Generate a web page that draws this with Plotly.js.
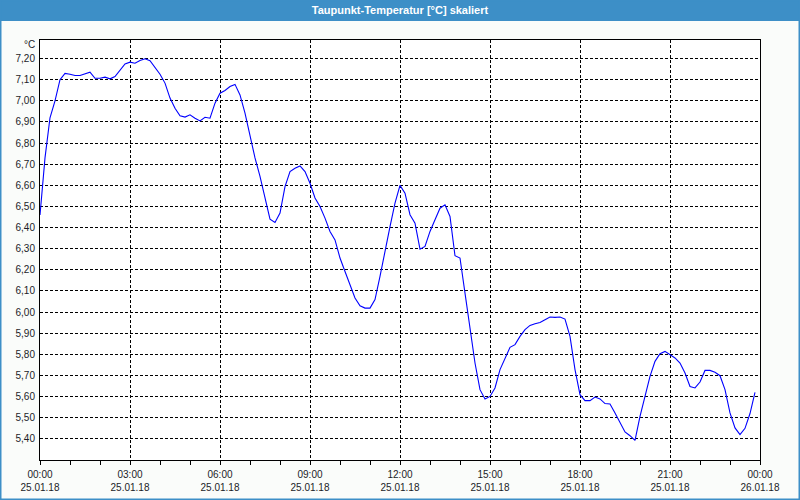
<!DOCTYPE html>
<html>
<head>
<meta charset="utf-8">
<script src="https://cdn.plot.ly/plotly-3.0.1.min.js"></script>
<style>html,body{margin:0;padding:0;background:#fafcfa;}#chart{width:800px;height:500px;}</style>
</head>
<body>
<div id="chart"></div>
<script>
// Chart title and unit
const chartTitle = "Taupunkt-Temperatur [°C] skaliert";
const unitLabel = "°C";

// Sampling of the series: one reading every 10 minutes from the start time
const startTime = "2018-01-25T00:00:00";
const stepMinutes = 10;

// Dew point temperature readings [°C]
const dewPoint = [
  6.46, 6.73, 6.92, 7.00, 7.10, 7.13, 7.126, 7.12, 7.12, 7.128,
  7.136, 7.107, 7.107, 7.112, 7.104, 7.115, 7.147, 7.175, 7.183, 7.178,
  7.191, 7.199, 7.19, 7.155, 7.126, 7.084, 7.013, 6.965, 6.929, 6.923,
  6.934, 6.918, 6.905, 6.922, 6.918, 6.989, 7.036, 7.049, 7.068, 7.078,
  7.028, 6.942, 6.83, 6.73, 6.642, 6.54, 6.44, 6.424, 6.469, 6.594,
  6.665, 6.681, 6.692, 6.665, 6.610, 6.540, 6.500, 6.445, 6.382, 6.342,
  6.256, 6.192, 6.130, 6.067, 6.030, 6.019, 6.019, 6.059, 6.169, 6.295,
  6.405, 6.516, 6.60, 6.563, 6.461, 6.421, 6.298, 6.311, 6.382, 6.437,
  6.492, 6.508, 6.453, 6.267, 6.256, 6.09, 5.917, 5.759, 5.633, 5.589,
  5.601, 5.641, 5.728, 5.783, 5.833, 5.846, 5.885, 5.917, 5.937, 5.945,
  5.951, 5.964, 5.977, 5.975, 5.977, 5.967, 5.885, 5.728, 5.609, 5.581,
  5.581, 5.598, 5.589, 5.567, 5.565, 5.523, 5.475, 5.433, 5.415, 5.393,
  5.507, 5.609, 5.696, 5.767, 5.803, 5.814, 5.798, 5.783, 5.759, 5.712,
  5.648, 5.641, 5.669, 5.724, 5.724, 5.715, 5.699, 5.633, 5.523, 5.452,
  5.42, 5.45, 5.52, 5.62
];

// Y tick positions
const yTickVals = [5.4, 5.5, 5.6, 5.7, 5.8, 5.9, 6.0, 6.1, 6.2, 6.3, 6.4, 6.5, 6.6, 6.7, 6.8, 6.9, 7.0, 7.1, 7.2];

// X tick positions and labels
const xTickVals = [
  "2018-01-25 00:00", "2018-01-25 03:00", "2018-01-25 06:00", "2018-01-25 09:00",
  "2018-01-25 12:00", "2018-01-25 15:00", "2018-01-25 18:00", "2018-01-25 21:00",
  "2018-01-26 00:00"
];
const xTickTimes = ["00:00", "03:00", "06:00", "09:00", "12:00", "15:00", "18:00", "21:00", "00:00"];
const xTickDates = ["25.01.18", "25.01.18", "25.01.18", "25.01.18", "25.01.18", "25.01.18", "25.01.18", "25.01.18", "26.01.18"];
const xRange = ["2018-01-25 00:00", "2018-01-26 00:00"];
const yRange = [5.30, 7.288];

function pad(n) { return (n < 10 ? "0" : "") + n; }
const t0 = new Date(startTime + "Z").getTime();
const times = dewPoint.map((_, i) => {
  const d = new Date(t0 + i * stepMinutes * 60000);
  return d.getUTCFullYear() + "-" + pad(d.getUTCMonth() + 1) + "-" + pad(d.getUTCDate()) +
    " " + pad(d.getUTCHours()) + ":" + pad(d.getUTCMinutes());
});

const blue = "#3d8fc7";
const font = {family: "Liberation Sans, Arial, sans-serif", size: 10, color: "#1c1c28"};

const trace = {
  x: times, y: dewPoint, type: "scatter", mode: "lines",
  line: {color: "#0000ff", width: 1.1}, hoverinfo: "x+y", showlegend: false
};

const W = 720, H = 420, L = 40, T = 40;
const layout = {
  width: 800, height: 500,
  margin: {l: 40, r: 40, t: 40, b: 40, pad: 0},
  paper_bgcolor: "#fafcfa", plot_bgcolor: "#ffffff",
  separators: ",.",
  font: font,
  title: {
    text: chartTitle, x: 0.5, xref: "container", xanchor: "center",
    y: 1 - 10 / 500, yref: "container", yanchor: "middle",
    font: {family: "Liberation Sans, Arial, sans-serif", size: 11, color: "#ffffff", weight: "bold"}
  },
  xaxis: {
    type: "date", range: xRange,
    tickmode: "array", tickvals: xTickVals,
    ticktext: xTickTimes.map((t, i) => t + "<br>" + xTickDates[i]),
    ticks: "outside", ticklen: 4, tickcolor: "#000", tickwidth: 1,
    showgrid: true, gridcolor: "#000", gridwidth: 1, griddash: "3px,2px",
    showline: true, linecolor: "#000", linewidth: 1, mirror: true,
    zeroline: false, tickfont: font, ticklabelstandoff: 1,
    minor: {tickmode: "linear", tick0: "2018-01-25 00:00", dtick: 3600000,
            ticks: "outside", ticklen: 4, tickcolor: "#000", showgrid: false}
  },
  yaxis: {
    range: yRange, tickmode: "array", tickvals: yTickVals, tickformat: ".2f",
    ticks: "", showgrid: true, gridcolor: "#000", gridwidth: 1, griddash: "3px,2px",
    showline: true, linecolor: "#000", linewidth: 1, mirror: true,
    zeroline: false, tickfont: font, ticklabelstandoff: 2
  },
  shapes: [
    {type: "rect", xref: "paper", yref: "paper",
     x0: -L / W, x1: 1 + 40 / W, y0: 1 + (T - 21) / H, y1: 1 + T / H,
     fillcolor: blue, line: {width: 0}, layer: "above"},
    {type: "rect", xref: "paper", yref: "paper",
     x0: -L / W, x1: 1 + 40 / W, y0: -40 / H, y1: 1 + T / H,
     fillcolor: "rgba(0,0,0,0)", line: {color: blue, width: 3}, layer: "above"}
  ],
  annotations: [
    {text: unitLabel, xref: "paper", yref: "paper", x: 0, y: 1 - 5 / H,
     xanchor: "right", yanchor: "middle", xshift: -3, showarrow: false, font: font}
  ]
};

Plotly.newPlot("chart", [trace], layout, {displayModeBar: false, staticPlot: true});
</script>
</body>
</html>
